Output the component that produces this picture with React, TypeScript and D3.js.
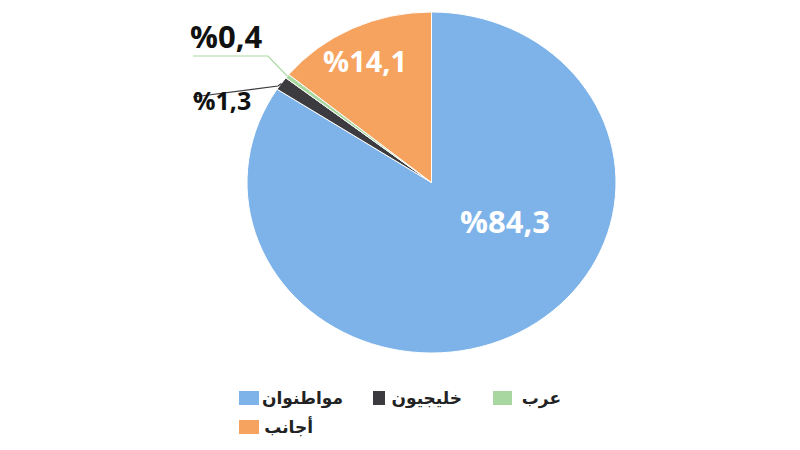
import React from "react";
import * as d3 from "d3";

const categories = ["مواطنوان", "خليجيون", "عرب", "أجانب"];
const values = [84.3, 1.3, 0.4, 14.1];
const labels = ["%84,3", "%1,3", "%0,4", "%14,1"];
const colors = ["#7DB3E9", "#3B3B40", "#A8D7A0", "#F6A35F"];

export default function App() {
  const W = 800, H = 450;
  const cx = 431.5, cy = 182.5;
  const ry = 170.5, rx = 184.5;
  const sx = rx / ry;

  const pie = d3.pie<number>().sort(null).startAngle(0).endAngle(2 * Math.PI);
  const arcs = pie(values);
  const arc = d3.arc<d3.PieArcDatum<number>>().innerRadius(0).outerRadius(ry);
  const edge = d3.arc<d3.PieArcDatum<number>>().innerRadius(ry).outerRadius(ry);

  const pt = (i: number) => {
    const [x, y] = edge.centroid(arcs[i]);
    return [cx + x * sx, cy + y];
  };
  const darkPt = pt(1);
  const greenPt = pt(2);

  const numFont = "'Open Sans', sans-serif";
  const arFont = "'DejaVu Sans', sans-serif";

  // legend layout: [rightEdgeOfText, row]
  const legendPos: [number, number, number][] = [
    [343, 0, 20],
    [462, 0, 12],
    [561, 0, 19],
    [313, 1, 20],
  ];
  const sqLeft = [239, 373, 493, 239];

  return (
    <div style={{ position: "absolute", left: 0, top: 0, background: "#fff" }}>
      <svg width={W} height={H} style={{ display: "block" }}>
        <rect width={W} height={H} fill="#fff" />
        <g transform={`translate(${cx},${cy}) scale(${sx},1)`}>
          {arcs.map((a, i) => (
            <path key={i} d={arc(a) || ""} fill={colors[i]} stroke="#fff" strokeWidth={1} vectorEffect="non-scaling-stroke" />
          ))}
        </g>
        {/* leader lines */}
        <polyline points={`193,56 268,56 ${greenPt[0]},${greenPt[1]}`} fill="none" stroke={colors[2]} strokeWidth={1.2} />
        <polyline points={`193,97 278,86 ${darkPt[0]},${darkPt[1]}`} fill="none" stroke={colors[1]} strokeWidth={1.2} />

        <text x={460} y={233} fill="#fff" fontFamily={numFont} fontWeight={700} fontSize={31}>{labels[0]}</text>
        <text x={323} y={72} fill="#fff" fontFamily={numFont} fontWeight={700} fontSize={29}>{labels[3]}</text>
        <text x={190} y={48} fill="#111" fontFamily={numFont} fontWeight={700} fontSize={31}>{labels[2]}</text>
        <text x={193} y={110} fill="#111" fontFamily={numFont} fontWeight={700} fontSize={25}>{labels[1]}</text>

        {categories.map((c, i) => {
          const [xr, row, w] = legendPos[i];
          const yc = row === 0 ? 398 : 427;
          return (
            <g key={c}>
              <rect x={sqLeft[i]} y={yc - 7} width={w} height={14} fill={colors[i]} />
              <text x={xr} y={yc + 6} textAnchor="end" fontFamily={arFont} fontWeight={700} fontSize={17} fill="#222">{c}</text>
            </g>
          );
        })}
      </svg>
    </div>
  );
}
